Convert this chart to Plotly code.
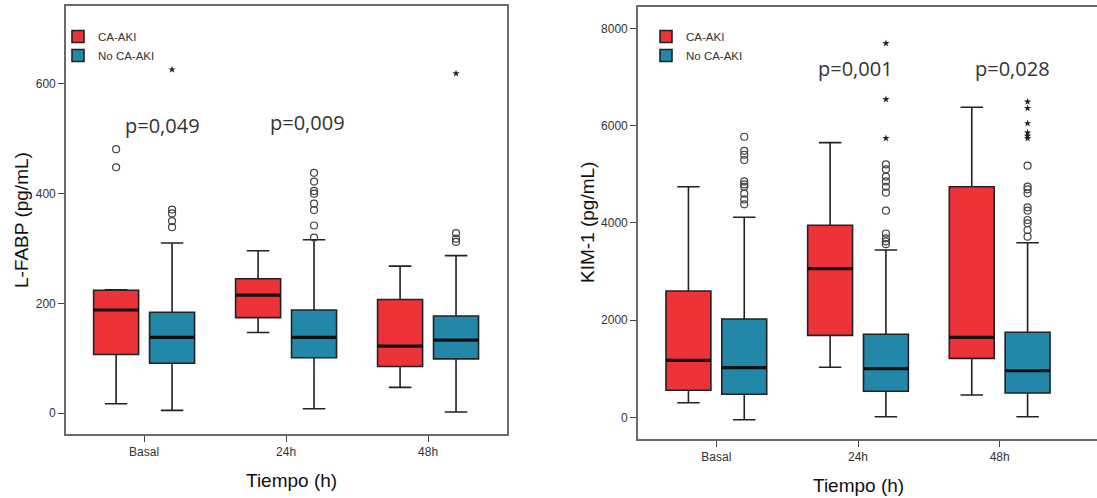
import plotly.graph_objects as go

# ---------------- data ----------------
categories = ["Basal", "24h", "48h"]
groups = ["CA-AKI", "No CA-AKI"]

# L-FABP (pg/mL)
lfabp_red_low = [17, 147, 47]
lfabp_red_q1 = [107, 174, 85]
lfabp_red_med = [188, 215, 122]
lfabp_red_q3 = [224, 245, 207]
lfabp_red_up = [225, 296, 268]
lfabp_teal_low = [5, 8, 2]
lfabp_teal_q1 = [91, 101, 99]
lfabp_teal_med = [138, 138, 133]
lfabp_teal_q3 = [184, 188, 177]
lfabp_teal_up = [310, 316, 287]
lfabp_red_out = [[481, 448], [], []]
lfabp_teal_out = [[371, 364, 350, 339], [438, 422, 405, 400, 382, 370, 342, 320], [328, 318, 312]]
lfabp_teal_ext = [[626], [], [619]]
lfabp_red_ext = [[], [], []]

# KIM-1 (pg/mL)
kim_red_low = [300, 1028, 459]
kim_red_q1 = [555, 1686, 1213]
kim_red_med = [1172, 3056, 1645]
kim_red_q3 = [2597, 3949, 4743]
kim_red_up = [4743, 5648, 6376]
kim_teal_low = [-49, 12, 12]
kim_teal_q1 = [473, 535, 500]
kim_teal_med = [1020, 1000, 958]
kim_teal_q3 = [2022, 1707, 1748]
kim_teal_up = [4113, 3441, 3591]
kim_red_out = [[], [], []]
kim_teal_out = [[5770, 5480, 5400, 5290, 4850, 4790, 4740, 4600, 4480, 4380],
                [5200, 5100, 4950, 4850, 4740, 4620, 4250, 3780, 3680, 3620, 3560],
                [5175, 4743, 4689, 4607, 4319, 4249, 4058, 3990, 3852, 3714]]
kim_teal_ext = [[], [7692, 6540, 5738], [6491, 6355, 6046, 5853, 5785, 5738]]
kim_red_ext = [[], [], []]

p_left = ["p=0,049", "p=0,009"]
p_left_pos = [(0.13, 524), (1.15, 530)]
p_right = ["p=0,001", "p=0,028"]
p_right_pos = [(0.98, 7180), (2.09, 7180)]

# ---------------- style ----------------
RED = "#ED3238"
TEAL = "#2387A9"
EDGE = "#222222"
OFF = 0.197
BW = 0.317
FONT = "Arial, Liberation Sans, sans-serif"

fig = go.Figure()


def add_panel(xa, ya, legend, red, teal):
    for (name, color, sign, st) in [("CA-AKI", RED, -1, red), ("No CA-AKI", TEAL, 1, teal)]:
        low, q1, med, q3, up, out, ext = st
        xs = [i + sign * OFF for i in range(len(categories))]
        fig.add_trace(go.Box(
            x=xs, q1=q1, median=med, q3=q3, lowerfence=low, upperfence=up,
            width=BW, whiskerwidth=0.5, fillcolor=color,
            line=dict(color=EDGE, width=1.6), boxpoints=False,
            name=name, legend=legend, xaxis=xa, yaxis=ya, showlegend=True,
            hoverinfo="skip"))
        # thick median lines
        mx, my = [], []
        for x, m in zip(xs, med):
            mx += [x - BW / 2, x + BW / 2, None]
            my += [m, m, None]
        fig.add_trace(go.Scatter(x=mx, y=my, mode="lines",
                                 line=dict(color="#111111", width=3.2),
                                 xaxis=xa, yaxis=ya, showlegend=False, hoverinfo="skip"))
        # outliers (circles)
        ox, oy = [], []
        for x, vals in zip(xs, out):
            ox += [x] * len(vals)
            oy += vals
        if oy:
            fig.add_trace(go.Scatter(x=ox, y=oy, mode="markers",
                                     marker=dict(symbol="circle-open", size=7,
                                                 color="#444444", line=dict(width=1.2)),
                                     xaxis=xa, yaxis=ya, showlegend=False, hoverinfo="skip"))
        # extreme (stars)
        ex, ey = [], []
        for x, vals in zip(xs, ext):
            ex += [x] * len(vals)
            ey += vals
        if ey:
            fig.add_trace(go.Scatter(x=ex, y=ey, mode="markers",
                                     marker=dict(symbol="star", size=5.5, color="#222222"),
                                     xaxis=xa, yaxis=ya, showlegend=False, hoverinfo="skip"))


add_panel("x", "y", "legend",
          (lfabp_red_low, lfabp_red_q1, lfabp_red_med, lfabp_red_q3, lfabp_red_up, lfabp_red_out, lfabp_red_ext),
          (lfabp_teal_low, lfabp_teal_q1, lfabp_teal_med, lfabp_teal_q3, lfabp_teal_up, lfabp_teal_out, lfabp_teal_ext))
add_panel("x2", "y2", "legend2",
          (kim_red_low, kim_red_q1, kim_red_med, kim_red_q3, kim_red_up, kim_red_out, kim_red_ext),
          (kim_teal_low, kim_teal_q1, kim_teal_med, kim_teal_q3, kim_teal_up, kim_teal_out, kim_teal_ext))

W, H = 1097, 498
axis_common = dict(showgrid=False, zeroline=False, showline=True, linecolor="#6a6a6a", linewidth=1.6,
                   ticks="outside", ticklen=6, tickcolor="#444444", tickwidth=1.3,
                   tickfont=dict(family=FONT, size=12, color="#333333"), fixedrange=True)

fig.update_layout(
    width=W, height=H, margin=dict(l=0, r=0, t=0, b=0),
    paper_bgcolor="white", plot_bgcolor="white",
    boxmode="overlay",
    xaxis=dict(domain=[66 / W, 507 / W], range=[-0.55, 2.556], tickmode="array",
               tickvals=list(range(len(categories))), ticktext=categories, mirror=True, anchor="y", **axis_common),
    yaxis=dict(domain=[(H - 434) / H, (H - 6) / H], range=[-38, 742], tickvals=[0, 200, 400, 600],
               mirror=True, anchor="x", **axis_common),
    xaxis2=dict(domain=[638 / W, 1.0], range=[-0.553, 2.687], tickmode="array",
                tickvals=list(range(len(categories))), ticktext=categories, mirror=True, anchor="y2", **axis_common),
    yaxis2=dict(domain=[(H - 439) / H, (H - 7) / H], range=[-446, 8438], tickvals=[0, 2000, 4000, 6000, 8000],
                mirror=False, anchor="x2", **axis_common),
    legend=dict(x=58 / W, y=(H - 22) / H, xanchor="left", yanchor="top", bgcolor="rgba(0,0,0,0)",
                font=dict(family=FONT, size=11.5, color="#333333"), tracegroupgap=0, itemwidth=30),
    legend2=dict(x=646 / W, y=(H - 22) / H, xanchor="left", yanchor="top", bgcolor="rgba(0,0,0,0)",
                 font=dict(family=FONT, size=11.5, color="#333333"), tracegroupgap=0, itemwidth=30),
)

ann = []
for txt, (x, y) in zip(p_left, p_left_pos):
    ann.append(dict(text=txt, x=x, y=y, xref="x", yref="y", showarrow=False,
                    font=dict(family="Open Sans, sans-serif", size=20, color="#333333")))
for txt, (x, y) in zip(p_right, p_right_pos):
    ann.append(dict(text=txt, x=x, y=y, xref="x2", yref="y2", showarrow=False,
                    font=dict(family="Open Sans, sans-serif", size=20, color="#333333")))
title_font = dict(family=FONT, size=19, color="#111111")
ann += [
    dict(text="L-FABP (pg/mL)", x=21 / W, y=(H - 220) / H, xref="paper", yref="paper", textangle=-90,
         showarrow=False, font=title_font, xanchor="center", yanchor="middle"),
    dict(text="KIM-1 (pg/mL)", x=587 / W, y=(H - 223) / H, xref="paper", yref="paper", textangle=-90,
         showarrow=False, font=title_font, xanchor="center", yanchor="middle"),
    dict(text="Tiempo (h)", x=1.04, y=(H - 480) / H, xref="x", yref="paper",
         showarrow=False, font=title_font, xanchor="center", yanchor="middle"),
    dict(text="Tiempo (h)", x=1.0, y=(H - 485) / H, xref="x2", yref="paper",
         showarrow=False, font=title_font, xanchor="center", yanchor="middle"),
]
fig.update_layout(annotations=ann)

fig.write_html("out.html")
